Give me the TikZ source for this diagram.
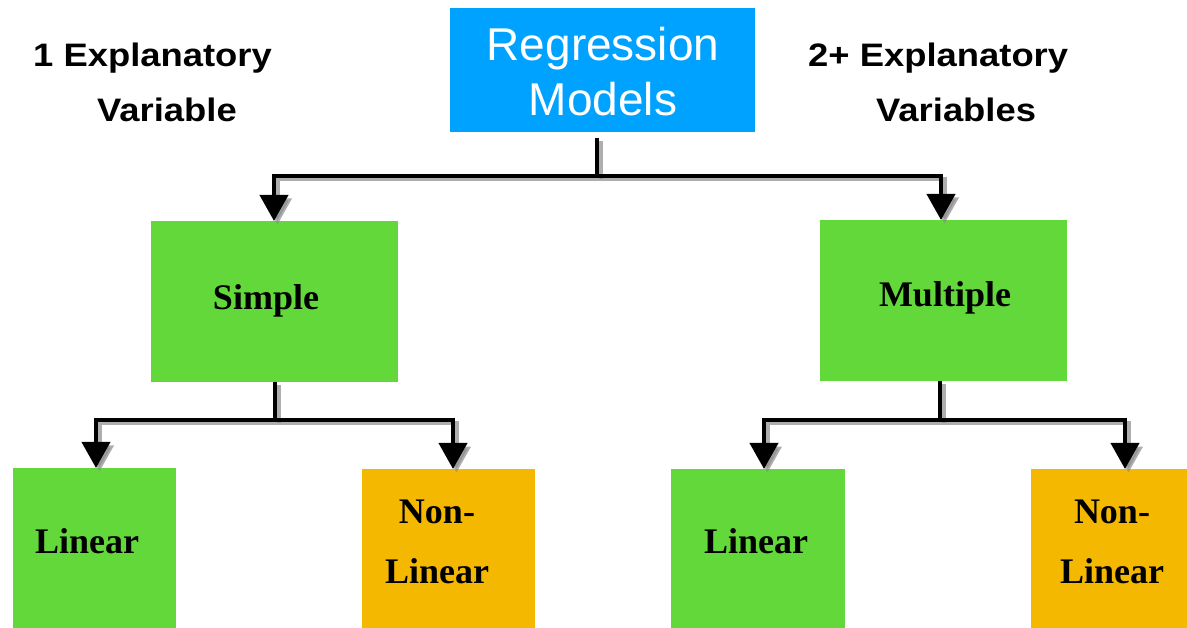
\documentclass[tikz,border=0pt]{standalone}
\usepackage{fontspec}
\setmainfont{Liberation Serif}
\newfontfamily\headfont{Liberation Sans}
\newfontfamily\sidefont[FakeStretch=1.12]{Liberation Sans}
\usetikzlibrary{arrows.meta}

\definecolor{regblue}{RGB}{0,162,255}
\definecolor{leafgreen}{RGB}{98,216,58}
\definecolor{leaforange}{RGB}{245,184,0}

\tikzset{
  box/.style={draw=none, inner sep=0pt, outer sep=0pt, anchor=north west},
  boxtext/.style={inner sep=0pt, align=center, text=black,
    font=\bfseries\fontsize{36}{60}\selectfont},
  sidetext/.style={inner sep=0pt, anchor=base west,
    font=\sidefont\bfseries\fontsize{32.5}{55}\selectfont},
  conn/.style={draw=black, line width=4pt},
  connshadow/.style={draw=black!45, line width=4pt, opacity=0.7},
  tip/.style={-{Triangle[width=28pt,length=26pt]}}
}

% all connectors of the tree, drawn with the style given as argument
\newcommand\treelinks[1]{%
  \draw[#1, shorten <=6pt] (reg.south -| t1) -- (t1);
  \draw[#1, tip] (t1) -| ([xshift=-0.5pt]simple.north);
  \draw[#1, tip] (t1) -| ([xshift=-2.5pt]multiple.north);
  \draw[#1] (simple.south -| t2) -- (t2);
  \draw[#1, tip] (t2) -| ([xshift=1.5pt]linA.north);
  \draw[#1, tip] (t2) -| ([xshift=4.5pt]nlA.north);
  \draw[#1] (multiple.south -| t3) -- (t3);
  \draw[#1, tip] (t3) -| ([xshift=6pt]linB.north);
  \draw[#1, tip] (t3) -| ([xshift=16pt]nlB.north);
}

\begin{document}
\begin{tikzpicture}[x=1pt, y=-1pt]
\useasboundingbox[fill=white] (0,0) rectangle (1187,628);

% boxes
\node[box, fill=regblue, minimum width=305pt, minimum height=124pt] (reg) at (450,8) {};
\node[box, fill=leafgreen, minimum width=247pt, minimum height=161pt] (simple) at (151,221) {};
\node[box, fill=leafgreen, minimum width=247pt, minimum height=161pt] (multiple) at (820,220) {};
\node[box, fill=leafgreen, minimum width=163pt, minimum height=160pt] (linA) at (13,468) {};
\node[box, fill=leaforange, minimum width=173pt, minimum height=159pt] (nlA) at (362,469) {};
\node[box, fill=leafgreen, minimum width=174pt, minimum height=159pt] (linB) at (671,469) {};
\node[box, fill=leaforange, minimum width=156pt, minimum height=159pt] (nlB) at (1031,469) {};

% junction points of the connectors
\coordinate (t1) at (597,176);
\coordinate (t2) at (275,420);
\coordinate (t3) at (940,420);

% connectors with their soft shadow
\begin{scope}[transform canvas={shift={(3.5pt,-3.5pt)}}]
  \treelinks{connshadow}
\end{scope}
\treelinks{conn}

% box texts
\node[inner sep=0pt, align=center, text=white,
  font=\headfont\fontsize{46}{55}\selectfont] (regtxt) at (603,72) {Regression\\Models};
\node[boxtext, anchor=base] (simpletxt) at (266,310) {Simple};
\node[boxtext, anchor=base] (multipletxt) at (945,307) {Multiple};
\node[boxtext, anchor=base] (linAtxt) at (87,553) {Linear};
\node[boxtext] (nlAtxt) at (437,542) {Non-\\Linear};
\node[boxtext, anchor=base] (linBtxt) at (756,553) {Linear};
\node[boxtext] (nlBtxt) at (1112,542) {Non-\\Linear};

% side captions
\node[sidetext] (oneA) at (33,67) {1 Explanatory};
\node[sidetext] (oneB) at (97,122) {Variable};
\node[sidetext] (twoA) at (808,67) {2+ Explanatory};
\node[sidetext] (twoB) at (876,122) {Variables};
\end{tikzpicture}
\end{document}
